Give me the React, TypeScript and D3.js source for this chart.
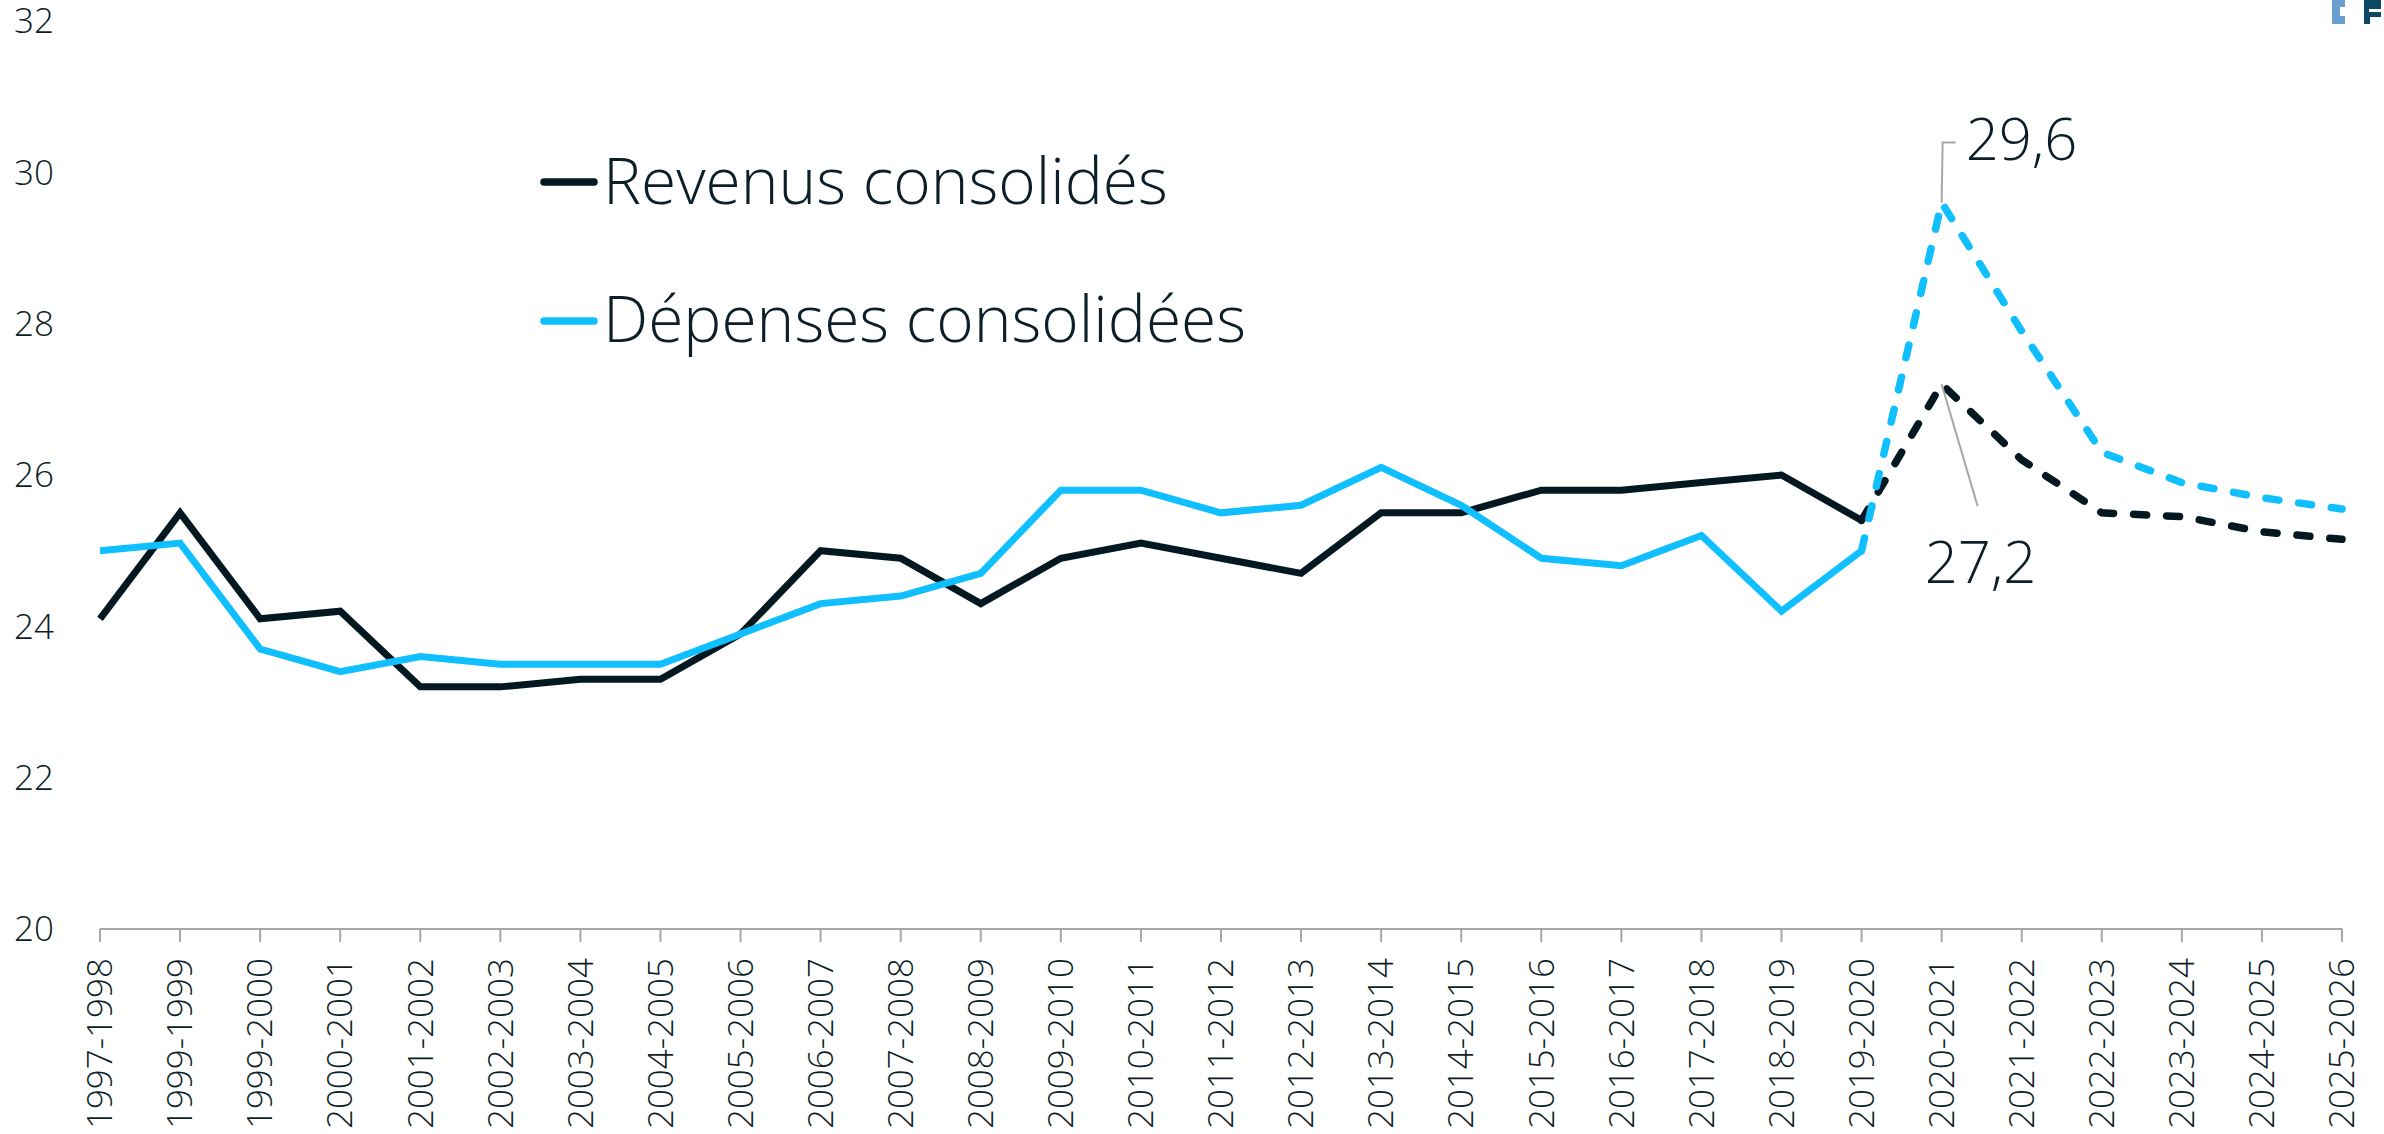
import React from 'react';
import * as d3 from 'd3';

const categories = [
  '1997-1998', '1999-1999', '1999-2000', '2000-2001', '2001-2002', '2002-2003',
  '2003-2004', '2004-2005', '2005-2006', '2006-2007', '2007-2008', '2008-2009',
  '2009-2010', '2010-2011', '2011-2012', '2012-2013', '2013-2014', '2014-2015',
  '2015-2016', '2016-2017', '2017-2018', '2018-2019', '2019-2020', '2020-2021',
  '2021-2022', '2022-2023', '2023-2024', '2024-2025', '2025-2026',
];
const revenus = [
  24.1, 25.5, 24.1, 24.2, 23.2, 23.2, 23.3, 23.3, 23.9, 25.0, 24.9, 24.3,
  24.9, 25.1, 24.9, 24.7, 25.5, 25.5, 25.8, 25.8, 25.9, 26.0, 25.4, 27.2,
  26.2, 25.5, 25.45, 25.25, 25.15,
];
const depenses = [
  25.0, 25.1, 23.7, 23.4, 23.6, 23.5, 23.5, 23.5, 23.9, 24.3, 24.4, 24.7,
  25.8, 25.8, 25.5, 25.6, 26.1, 25.6, 24.9, 24.8, 25.2, 24.2, 25.0, 29.6,
  27.9, 26.3, 25.9, 25.7, 25.55,
];
const projectionStart = 22;
const yTicks = [20, 22, 24, 26, 28, 30, 32];
const seriesNames = ['Revenus consolidés', 'Dépenses consolidées'];
const peakLabels = ['27,2', '29,6'];

const W = 2384;
const H = 1134;
const BLACK = '#031820';
const BLUE = '#10BFFF';
const TEXT = '#0c1e27';
const AXIS = '#a6a6a6';
const FONT = "'Open Sans', 'Noto Sans', sans-serif";

export default function App() {
  const x = d3.scalePoint<string>().domain(categories).range([100, 2342]);
  const y = d3.scaleLinear().domain([20, 32]).range([929, 21]);

  const line = d3
    .line<[string, number]>()
    .x((d) => x(d[0]) as number)
    .y((d) => y(d[1]));

  const pairs = (vals: number[]) => categories.map((c, i) => [c, vals[i]] as [string, number]);
  const solid = (vals: number[]) => line(pairs(vals).slice(0, projectionStart + 1)) || '';
  const dashed = (vals: number[]) => line(pairs(vals).slice(projectionStart)) || '';

  const peakIdx = 23;
  const pxPeak = x(categories[peakIdx]) as number;
  const yRevPeak = y(revenus[peakIdx]);
  const yDepPeak = y(depenses[peakIdx]);

  return (
    <svg
      width={W}
      height={H}
      style={{ position: 'absolute', left: 0, top: 0, background: '#fff', display: 'block' }}
      fontFamily={FONT}
    >
      <rect x={0} y={0} width={W} height={H} fill="#fff" />

      {/* logo fragment */}
      <g>
        <rect x={2332} y={0} width={13} height={24} fill="#6b9fcf" />
        <rect x={2340} y={7} width={5} height={9} fill="#fff" />
        <rect x={2364} y={0} width={17} height={24} fill="#0e4763" />
        <rect x={2369} y={9} width={12} height={3} fill="#fff" />
        <rect x={2370} y={17} width={11} height={7} fill="#fff" />
      </g>

      {/* y axis labels */}
      {yTicks.map((t) => (
        <text
          key={t}
          x={54}
          y={y(t)}
          dy="0.35em"
          textAnchor="end"
          fontSize={35}
          fontWeight={300}
          fill={TEXT}
        >
          {t}
        </text>
      ))}

      {/* x axis */}
      <line x1={100} x2={2342} y1={y(20)} y2={y(20)} stroke={AXIS} strokeWidth={2} />
      {categories.map((c) => {
        const px = x(c) as number;
        return (
          <g key={c}>
            <line x1={px} x2={px} y1={y(20)} y2={y(20) + 13} stroke={AXIS} strokeWidth={2} />
            <text
              transform={`translate(${px},958) rotate(-90)`}
              textAnchor="end"
              dy="0.35em"
              fontSize={35}
              fontWeight={300}
              fill={TEXT}
            >
              {c}
            </text>
          </g>
        );
      })}

      {/* series */}
      <path d={solid(revenus)} fill="none" stroke={BLACK} strokeWidth={7} />
      <path d={solid(depenses)} fill="none" stroke={BLUE} strokeWidth={7} />
      <path
        d={dashed(revenus)}
        fill="none"
        stroke={BLACK}
        strokeWidth={7.5}
        strokeDasharray="13 20"
        strokeLinecap="round"
      />
      <path
        d={dashed(depenses)}
        fill="none"
        stroke={BLUE}
        strokeWidth={7.5}
        strokeDasharray="13 20"
        strokeLinecap="round"
      />

      {/* annotations */}
      <polyline
        points={`${pxPeak},${yDepPeak} ${pxPeak + 1},${yDepPeak - 60} ${pxPeak + 14},${yDepPeak - 60}`}
        fill="none"
        stroke={AXIS}
        strokeWidth={2}
      />
      <text x={pxPeak + 24} y={yDepPeak - 43} fontSize={58} fontWeight={300} fill={TEXT}>
        {peakLabels[1]}
      </text>
      <line
        x1={pxPeak}
        y1={yRevPeak}
        x2={pxPeak + 36}
        y2={yRevPeak + 122}
        stroke={AXIS}
        strokeWidth={2}
      />
      <text x={pxPeak - 17} y={yRevPeak + 199} fontSize={58} fontWeight={300} fill={TEXT}>
        {peakLabels[0]}
      </text>

      {/* legend */}
      <line x1={544} x2={594} y1={182} y2={182} stroke={BLACK} strokeWidth={7.5} strokeLinecap="round" />
      <text x={603} y={204} fontSize={64} fontWeight={300} fill={TEXT}>
        {seriesNames[0]}
      </text>
      <line x1={544} x2={594} y1={321} y2={321} stroke={BLUE} strokeWidth={7.5} strokeLinecap="round" />
      <text x={603} y={342} fontSize={64} fontWeight={300} fill={TEXT}>
        {seriesNames[1]}
      </text>
    </svg>
  );
}
